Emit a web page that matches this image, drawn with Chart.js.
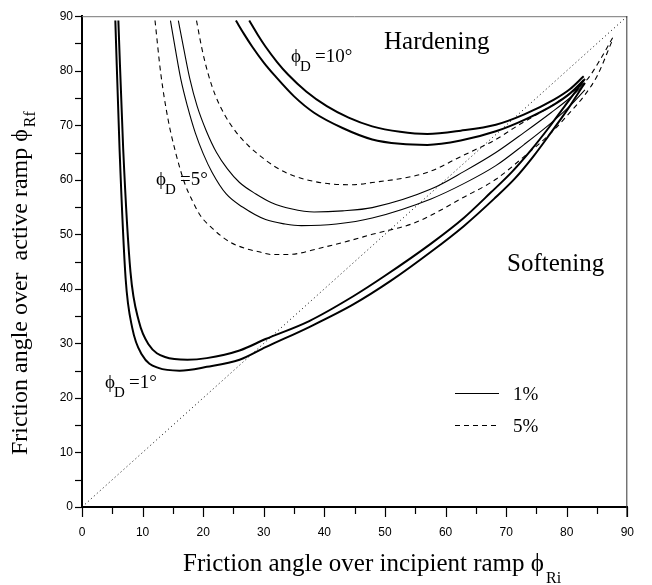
<!DOCTYPE html>
<html>
<head>
<meta charset="utf-8">
<script src="https://cdn.jsdelivr.net/npm/chart.js@4/dist/chart.umd.min.js"></script>
<style>
  html, body { margin: 0; padding: 0; background: #fff; }
  canvas { display: block; }
</style>
</head>
<body>
<canvas id="chart" width="652" height="585"></canvas>
<script>
// phi_D = 1 deg, the two thick curves (1% and 5% lie on top of each other)
var d1InnerX = [6.0, 6.8, 8.0, 9.4, 11.0, 13.7, 17.4, 20.6, 26.0, 30.3, 37.5, 44.7, 50.0, 57.6, 63.0, 67.5, 71.0, 74.0, 77.0, 80.0, 83.0];
var d1InnerY = [89.2, 65.6, 43.1, 34.0, 29.8, 27.5, 27.0, 27.3, 28.7, 30.8, 34.1, 38.6, 42.4, 48.3, 53.0, 57.7, 61.5, 65.3, 69.5, 74.0, 78.5];
var d1OuterX = [5.5, 6.2, 7.2, 8.3, 9.9, 12.6, 16.1, 20.6, 26.0, 30.3, 37.5, 44.7, 51.0, 57.6, 63.0, 68.0, 71.5, 74.5, 77.3, 80.2, 83.0];
var d1OuterY = [89.2, 65.6, 41.9, 32.8, 27.9, 25.5, 25.0, 25.7, 27.0, 29.3, 33.0, 37.1, 41.5, 46.8, 51.5, 56.5, 60.3, 64.3, 68.5, 73.0, 77.8];

// phi_D = 5 deg, 1% (solid)
var d5SolidInX = [15.9, 16.8, 17.8, 19.0, 20.5, 22.2, 24.0, 26.0, 28.7, 31.3, 34.5, 38.3, 43.0, 47.9, 57.6, 63.0, 68.3, 73.0, 77.4, 80.5, 83.0];
var d5SolidInY = [89.2, 84.0, 78.5, 73.5, 69.0, 65.0, 62.0, 59.5, 57.4, 55.8, 54.7, 54.1, 54.3, 54.9, 58.3, 61.5, 65.0, 68.7, 72.3, 75.0, 77.6];
var d5SolidOutX = [14.6, 15.4, 16.3, 17.4, 18.7, 20.0, 21.5, 23.8, 26.5, 30.3, 33.5, 36.2, 42.0, 47.9, 57.6, 63.0, 68.3, 73.0, 77.4, 80.5, 83.0];
var d5SolidOutY = [89.2, 84.0, 78.5, 73.5, 68.6, 64.8, 61.3, 57.4, 55.0, 52.7, 51.9, 51.6, 51.9, 53.0, 56.5, 59.3, 62.6, 66.5, 70.4, 73.5, 76.5];

// phi_D = 5 deg, 5% (dashed)
var d5DashInX = [18.9, 19.8, 20.8, 22.0, 23.5, 25.4, 27.5, 29.5, 32.0, 35.0, 38.3, 41.5, 44.7, 47.9, 54.4, 57.6, 62.4, 68.3, 72.0, 77.4, 80.5, 83.3, 85.5, 87.8];
var d5DashInY = [89.2, 84.0, 79.5, 75.5, 72.0, 68.8, 66.2, 64.3, 62.3, 60.7, 59.7, 59.2, 59.1, 59.5, 60.6, 61.6, 64.2, 67.4, 70.0, 73.5, 75.8, 78.3, 82.0, 86.5];
var d5DashOutX = [12.05, 13.0, 14.2, 15.5, 16.9, 18.2, 19.5, 21.8, 24.4, 27.0, 29.2, 31.3, 34.0, 39.4, 44.7, 47.9, 54.4, 57.6, 62.5, 68.3, 73.0, 77.4, 80.5, 82.8, 85.0, 87.5];
var d5DashOutY = [89.2, 79.5, 71.1, 64.8, 59.5, 56.2, 53.5, 50.8, 48.6, 47.4, 46.8, 46.3, 46.3, 47.5, 49.0, 50.0, 51.9, 53.5, 56.5, 60.1, 64.3, 68.6, 72.3, 75.3, 79.0, 85.5];

// phi_D = 10 deg, thick pair
var d10InnerX = [27.6, 29.0, 30.3, 32.2, 34.0, 37.0, 40.4, 44.0, 47.9, 52.5, 57.0, 62.5, 68.3, 73.0, 77.9, 80.5, 82.8];
var d10InnerY = [89.2, 86.6, 84.4, 81.6, 79.3, 76.2, 73.5, 71.4, 69.8, 68.8, 68.4, 69.0, 70.1, 72.0, 74.7, 76.6, 79.0];
var d10OuterX = [25.4, 26.7, 28.1, 30.0, 31.9, 35.0, 38.3, 43.0, 47.9, 52.5, 57.0, 62.5, 68.3, 73.0, 77.9, 80.5, 82.8];
var d10OuterY = [89.2, 86.8, 84.4, 81.5, 79.0, 75.3, 72.3, 69.5, 67.4, 66.6, 66.4, 67.2, 68.9, 71.0, 73.8, 75.8, 78.3];

// phi_Rf = phi_Ri
var diagX = [0, 90];
var diagY = [0, 90];

var xTicks = [0, 10, 20, 30, 40, 50, 60, 70, 80, 90];
var yTicks = [0, 10, 20, 30, 40, 50, 60, 70, 80, 90];

function pts(xs, ys) {
  return xs.map(function(x, i) { return {x: x, y: ys[i]}; });
}

function curve(xs, ys, width, dash) {
  return {
    data: pts(xs, ys),
    showLine: true,
    borderColor: '#000',
    borderWidth: width,
    borderDash: dash || [],
    pointRadius: 0,
    cubicInterpolationMode: 'monotone',
    fill: false
  };
}

var serif = '"Liberation Serif", "Times New Roman", serif';

function put(ctx, s, x, y, size) {
  ctx.font = size + 'px ' + serif;
  ctx.fillText(s, x, y);
  return ctx.measureText(s).width;
}

function phiLabel(ctx, x, y, rest) {
  put(ctx, '\u03D5', x, y, 19);
  put(ctx, 'D', x + 9, y + 9, 15);
  put(ctx, rest, x + 24, y, 19);
}

var decor = {
  id: 'decor',
  afterDraw: function(chart) {
    var ctx = chart.ctx;
    var a = chart.chartArea;
    var xs = chart.scales.x, ys = chart.scales.y;
    ctx.save();

    // thin top / right frame
    ctx.lineWidth = 1;
    ctx.strokeStyle = '#777';
    ctx.beginPath(); ctx.moveTo(a.left, a.top + 0.5); ctx.lineTo(a.right, a.top + 0.5); ctx.stroke();
    ctx.strokeStyle = '#333';
    ctx.beginPath(); ctx.moveTo(a.right - 0.5, a.top); ctx.lineTo(a.right - 0.5, a.bottom + 10); ctx.stroke();

    // outward tick marks, major every 10, minor every 5
    ctx.strokeStyle = '#000';
    ctx.lineWidth = 1.2;
    for (var v = 0; v <= 90; v += 5) {
      var px = Math.round(xs.getPixelForValue(v)) + 0.5;
      var len = (v % 10 === 0) ? 10 : 7;
      ctx.beginPath(); ctx.moveTo(px, a.bottom); ctx.lineTo(px, a.bottom + len); ctx.stroke();
      var py = Math.round(ys.getPixelForValue(v)) + 0.5;
      ctx.beginPath(); ctx.moveTo(a.left - 7, py); ctx.lineTo(a.left, py); ctx.stroke();
    }

    ctx.fillStyle = '#000';
    ctx.textAlign = 'left';
    ctx.textBaseline = 'alphabetic';

    // curve labels
    phiLabel(ctx, 291, 62, '=10\u00B0');
    phiLabel(ctx, 156, 185, '=5\u00B0');
    phiLabel(ctx, 105, 388, '=1\u00B0');
    put(ctx, 'Hardening', 384, 49, 25);
    put(ctx, 'Softening', 507, 271, 25);

    // legend
    ctx.lineWidth = 1;
    ctx.beginPath(); ctx.moveTo(455, 393.5); ctx.lineTo(499, 393.5); ctx.stroke();
    ctx.setLineDash([5, 4]);
    ctx.beginPath(); ctx.moveTo(455, 425.5); ctx.lineTo(499, 425.5); ctx.stroke();
    ctx.setLineDash([]);
    put(ctx, '1%', 513, 400, 19);
    put(ctx, '5%', 513, 432, 19);

    // axis titles
    var w = put(ctx, 'Friction angle over incipient ramp \u03D5', 183, 571, 25);
    put(ctx, 'Ri', 183 + w + 2, 583, 16);

    ctx.translate(27, 455);
    ctx.rotate(-Math.PI / 2);
    w = put(ctx, 'Friction angle over  active ramp \u03D5', 0, 0, 24);
    put(ctx, 'Rf', w + 2, 8, 16);

    ctx.restore();
  }
};

var tickFont = {family: '"Liberation Sans", Arial, sans-serif', size: 12};

new Chart(document.getElementById('chart'), {
  type: 'scatter',
  data: {
    datasets: [
      curve(diagX, diagY, 1, [1, 3]),
      curve(d1InnerX, d1InnerY, 2),
      curve(d1OuterX, d1OuterY, 2),
      curve(d5SolidInX, d5SolidInY, 1.1),
      curve(d5SolidOutX, d5SolidOutY, 1.1),
      curve(d5DashInX, d5DashInY, 1.1, [5, 4]),
      curve(d5DashOutX, d5DashOutY, 1.1, [5, 4]),
      curve(d10InnerX, d10InnerY, 2),
      curve(d10OuterX, d10OuterY, 2)
    ]
  },
  options: {
    responsive: false,
    animation: false,
    devicePixelRatio: 1,
    layout: {padding: {top: 13, right: 10, left: 0, bottom: 0}},
    plugins: {legend: {display: false}, tooltip: {enabled: false}},
    scales: {
      x: {
        type: 'linear', min: 0, max: 90,
        afterBuildTicks: function(s) { s.ticks = xTicks.map(function(v) { return {value: v}; }); },
        afterFit: function(s) { s.height = 78; },
        grid: {display: false, drawTicks: false},
        border: {display: true, color: '#000', width: 2},
        ticks: {font: tickFont, color: '#000', padding: 18, maxRotation: 0, autoSkip: false}
      },
      y: {
        type: 'linear', min: 0, max: 90,
        afterBuildTicks: function(s) { s.ticks = yTicks.map(function(v) { return {value: v}; }); },
        afterFit: function(s) { s.width = 82; },
        grid: {display: false, drawTicks: false},
        border: {display: true, color: '#000', width: 2},
        ticks: {font: tickFont, color: '#000', padding: 9, autoSkip: false}
      }
    }
  },
  plugins: [decor]
});
</script>
</body>
</html>
